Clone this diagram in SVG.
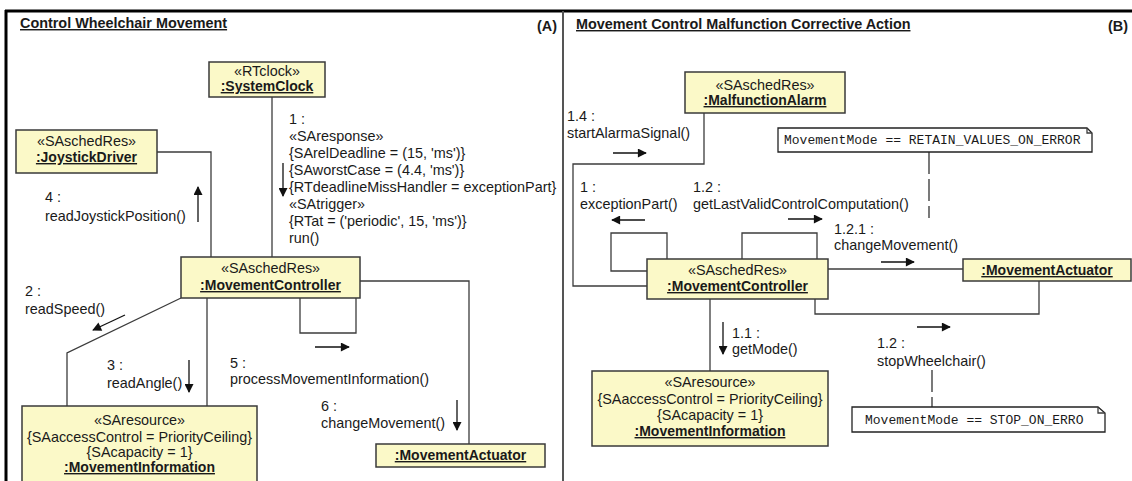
<svg xmlns="http://www.w3.org/2000/svg" width="1132" height="481" viewBox="0 0 1132 481">
<defs>
  <marker id="ah" viewBox="0 0 10 10" refX="9" refY="5" markerWidth="10" markerHeight="9" markerUnits="userSpaceOnUse" orient="auto">
    <path d="M0,0 L10,5 L0,10 z" fill="#111"/>
  </marker>
</defs>
<style>
  text{font-family:"Liberation Sans",Arial,sans-serif;font-size:14.4px;fill:#1a1a1a}
  .t{font-weight:bold;text-decoration:underline}
  .n{font-weight:bold;text-decoration:underline;font-size:14px}
  .c{text-anchor:middle}
  .box{fill:#fbf9c8;stroke:#3a3a3a;stroke-width:1.5}
  .ln{fill:none;stroke:#3c3c3c;stroke-width:1.3}
  .ar{stroke:#111;stroke-width:1.3;marker-end:url(#ah)}
  .note{fill:#fff;stroke:#222;stroke-width:1.3}
  .mono{font-family:"Liberation Mono","Courier New",monospace;font-size:13px}
  .dash{fill:none;stroke:#333;stroke-width:1.3;stroke-dasharray:22 5}
</style>
<rect width="1132" height="481" fill="#fff"/>

<!-- frame -->
<g id="frame">
  <line x1="5" y1="11" x2="1132" y2="11" stroke="#000" stroke-width="3"/>
  <line x1="6" y1="10" x2="6" y2="481" stroke="#000" stroke-width="3"/>
  <line x1="563" y1="11" x2="563" y2="481" stroke="#555" stroke-width="2"/>
  <text class="t" x="20" y="28">Control Wheelchair Movement</text>
  <text x="537" y="31" font-weight="bold">(A)</text>
  <text class="t" x="576" y="29">Movement Control Malfunction Corrective Action</text>
  <text x="1108" y="31" font-weight="bold">(B)</text>
</g>

<!-- connectors -->
<g id="connectors">
  <!-- panel A -->
  <path class="ln" d="M272,97 V257"/>
  <path class="ln" d="M157,152 H211 V257"/>
  <path class="ln" d="M181,298 L67,353 V406"/>
  <path class="ln" d="M207,298 V406"/>
  <path class="ln" d="M300,298 V333 H356 V298"/>
  <path class="ln" d="M360,281 H469 V444"/>
  <line class="ar" x1="283" y1="163" x2="283" y2="196"/>
  <line class="ar" x1="198" y1="222" x2="198" y2="187"/>
  <line class="ar" x1="125" y1="315" x2="93" y2="330"/>
  <line class="ar" x1="189" y1="360" x2="189" y2="392"/>
  <line class="ar" x1="315" y1="347" x2="349" y2="347"/>
  <line class="ar" x1="457" y1="400" x2="457" y2="430"/>
  <!-- panel B -->
  <path class="ln" d="M704,113 V164 H573 V286 H647"/>
  <path class="ln" d="M667,259 V233 H611 V271 H647"/>
  <path class="ln" d="M742,259 V233 H817 V259"/>
  <path class="ln" d="M828,269 H963"/>
  <path class="ln" d="M815,299 V314 H1039 V281"/>
  <path class="ln" d="M710,299 V371"/>
  <path class="dash" d="M929,152 V218"/>
  <path class="dash" d="M932,370 V407"/>
  <line class="ar" x1="613" y1="153" x2="646" y2="153"/>
  <line class="ar" x1="645" y1="220" x2="612" y2="220"/>
  <line class="ar" x1="788" y1="219" x2="822" y2="219"/>
  <line class="ar" x1="881" y1="262" x2="914" y2="262"/>
  <line class="ar" x1="917" y1="327" x2="950" y2="327"/>
  <line class="ar" x1="723" y1="322" x2="723" y2="354"/>
</g>

<!-- message labels -->
<g id="labels">
  <text x="289" y="124">1 :</text>
  <text x="289" y="141">«SAresponse»</text>
  <text x="289" y="158">{SArelDeadline = (15, 'ms')}</text>
  <text x="289" y="175">{SAworstCase = (4.4, 'ms')}</text>
  <text x="289" y="192">{RTdeadlineMissHandler = exceptionPart}</text>
  <text x="289" y="209">«SAtrigger»</text>
  <text x="289" y="226">{RTat = ('periodic', 15, 'ms')}</text>
  <text x="289" y="243">run()</text>
  <text x="45" y="202">4 :</text>
  <text x="45" y="221">readJoystickPosition()</text>
  <text x="25" y="296">2 :</text>
  <text x="25" y="314">readSpeed()</text>
  <text x="107" y="370">3 :</text>
  <text x="107" y="388">readAngle()</text>
  <text x="230" y="368">5 :</text>
  <text x="230" y="384">processMovementInformation()</text>
  <text x="321" y="411">6 :</text>
  <text x="321" y="428">changeMovement()</text>

  <text x="567" y="121">1.4 :</text>
  <text x="567" y="138">startAlarmaSignal()</text>
  <text x="580" y="192">1 :</text>
  <text x="580" y="209">exceptionPart()</text>
  <text x="693" y="192">1.2 :</text>
  <text x="693" y="209">getLastValidControlComputation()</text>
  <text x="834" y="234">1.2.1 :</text>
  <text x="834" y="250">changeMovement()</text>
  <text x="877" y="348">1.2 :</text>
  <text x="877" y="366">stopWheelchair()</text>
  <text x="732" y="338">1.1 :</text>
  <text x="732" y="354">getMode()</text>
</g>

<!-- panel A nodes -->
<g id="systemClock">
  <rect class="box" x="209" y="62" width="116" height="35"/>
  <text class="c" x="267" y="76">«RTclock»</text>
  <text class="n c" x="267" y="91">:SystemClock</text>
</g>
<g id="joystickDriver">
  <rect class="box" x="16" y="130" width="141" height="43"/>
  <text class="c" x="86.5" y="146">«SAschedRes»</text>
  <text class="n c" x="86.5" y="162">:JoystickDriver</text>
</g>
<g id="movementControllerA">
  <rect class="box" x="181" y="257" width="179" height="41"/>
  <text class="c" x="270.5" y="273">«SAschedRes»</text>
  <text class="n c" x="270.5" y="290">:MovementController</text>
</g>
<g id="movementInformationA">
  <rect class="box" x="22" y="406" width="235" height="78"/>
  <text class="c" x="139.5" y="425">«SAresource»</text>
  <text class="c" x="139.5" y="442">{SAaccessControl = PriorityCeiling}</text>
  <text class="c" x="139.5" y="457">{SAcapacity = 1}</text>
  <text class="n c" x="139.5" y="472">:MovementInformation</text>
</g>
<g id="movementActuatorA">
  <rect class="box" x="376" y="444" width="169" height="23"/>
  <text class="n c" x="460.5" y="460">:MovementActuator</text>
</g>

<!-- panel B nodes -->
<g id="malfunctionAlarm">
  <rect class="box" x="685" y="72" width="160" height="41"/>
  <text class="c" x="765" y="90">«SAschedRes»</text>
  <text class="n c" x="765" y="105">:MalfunctionAlarm</text>
</g>
<g id="noteRetain">
  <path class="note" d="M778,128 H1087 L1092,133 V152 H778 Z"/>
  <path class="ln" d="M1087,128 V133 H1092"/>
  <text class="mono" x="784" y="144">MovementMode == RETAIN_VALUES_ON_ERROR</text>
</g>
<g id="movementControllerB">
  <rect class="box" x="647" y="259" width="181" height="40"/>
  <text class="c" x="737.5" y="275">«SAschedRes»</text>
  <text class="n c" x="737.5" y="291">:MovementController</text>
</g>
<g id="movementActuatorB">
  <rect class="box" x="963" y="259" width="168" height="22"/>
  <text class="n c" x="1047" y="275">:MovementActuator</text>
</g>
<g id="movementInformationB">
  <rect class="box" x="592" y="371" width="236" height="75"/>
  <text class="c" x="710" y="387">«SAresource»</text>
  <text class="c" x="710" y="404">{SAaccessControl = PriorityCeiling}</text>
  <text class="c" x="710" y="420">{SAcapacity = 1}</text>
  <text class="n c" x="710" y="436">:MovementInformation</text>
</g>
<g id="noteStop">
  <path class="note" d="M852,407 H1098 L1105,413 V432 H852 Z"/>
  <path class="ln" d="M1098,407 V413 H1105"/>
  <text class="mono" x="865" y="424">MovementMode == STOP_ON_ERRO</text>
</g>
</svg>
